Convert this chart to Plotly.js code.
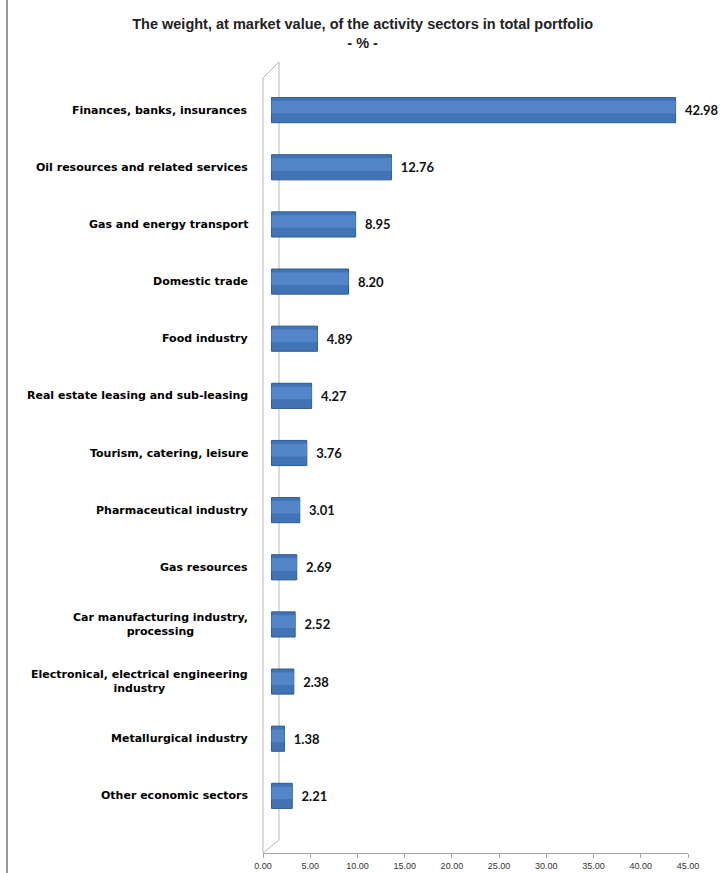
<!DOCTYPE html>
<html>
<head>
<meta charset="utf-8">
<script src="https://cdn.plot.ly/plotly-3.0.1.min.js"></script>
<style>html,body{margin:0;padding:0;background:#fff;}#chart{width:721px;height:873px;}</style>
</head>
<body>
<div id="chart"></div>
<script>
var categories = [
  "Finances, banks, insurances",
  "Oil resources and related services",
  "Gas and energy transport",
  "Domestic trade",
  "Food industry",
  "Real estate leasing and sub-leasing",
  "Tourism, catering, leisure",
  "Pharmaceutical industry",
  "Gas resources",
  "Car manufacturing industry,<br>processing",
  "Electronical, electrical engineering<br>industry",
  "Metallurgical industry",
  "Other economic sectors"
];
var weights = [42.98, 12.76, 8.95, 8.20, 4.89, 4.27, 3.76, 3.01, 2.69, 2.52, 2.38, 1.38, 2.21];
var xTickVals = [0, 5, 10, 15, 20, 25, 30, 35, 40, 45];

var W = 721, H = 873;
var mL = 263, mR = 33, mT = 65, mB = 20;
var pw = W - mL - mR, ph = H - mT - mB;
function px(x){ return (x - mL) / pw; }
function py(y){ return (H - mB - y) / ph; }

var axisHolder = {
  type: 'scatter', mode: 'none', xaxis: 'x', yaxis: 'y',
  x: [], y: [], hoverinfo: 'none', showlegend: false
};
var bars = {
  type: 'bar', orientation: 'h', xaxis: 'x2', yaxis: 'y',
  y: categories, x: weights,
  width: 0.44, offset: -0.22,
  marker: { color: '#4173b5', line: { color: '#2d5a92', width: 1 } },
  text: weights.map(function(v){ return '\u00a0\u00a0' + v.toFixed(2); }),
  textposition: 'outside', constraintext: 'none', cliponaxis: false,
  textfont: { family: 'Lato, Carlito, Liberation Sans, sans-serif', size: 13, color: '#111', weight: 'bold' },
  hoverinfo: 'none'
};
var shine = {
  type: 'bar', orientation: 'h', xaxis: 'x2', yaxis: 'y',
  y: categories, x: weights,
  width: 0.22, offset: -0.16,
  marker: { color: '#5286c9', line: { width: 0 } },
  hoverinfo: 'none'
};

var annotations = categories.map(function(c){
  return {
    xref: 'paper', yref: 'y', x: 0, y: c, xanchor: 'right', yanchor: 'middle',
    xshift: -13, showarrow: false, align: 'center', text: c,
    font: { family: 'DejaVu Sans, sans-serif', size: 11, color: '#000', weight: 'bold' }
  };
});

var layout = {
  width: W, height: H,
  margin: { l: mL, r: mR, t: mT, b: mB },
  paper_bgcolor: '#fff', plot_bgcolor: '#fff',
  showlegend: false,
  barmode: 'overlay',
  title: {
    text: 'The weight, at market value, of the activity sectors in total portfolio<br>- % -',
    font: { family: 'Liberation Sans, Arial, sans-serif', size: 14.5, color: '#222', weight: 'bold' },
    x: 0.503, xanchor: 'center', y: 0.967, yanchor: 'top'
  },
  xaxis: {
    range: [0, 45], tickvals: xTickVals, tickformat: '.2f',
    showgrid: false, zeroline: false, showline: true, linecolor: '#a6a6a6', linewidth: 1,
    ticks: 'outside', ticklen: 4, tickcolor: '#a6a6a6',
    tickfont: { family: 'Liberation Sans, Arial, sans-serif', size: 9, color: '#333' }
  },
  xaxis2: {
    overlaying: 'x', range: [-0.9, 44.3], visible: false, showgrid: false, zeroline: false
  },
  yaxis: {
    type: 'category', range: [13.0, -0.79],
    showticklabels: false, showgrid: false, zeroline: false, showline: false, ticks: ''
  },
  annotations: annotations,
  shapes: [
    { type: 'path', xref: 'paper', yref: 'paper', layer: 'below',
      path: 'M ' + px(263) + ',' + py(853) + ' L ' + px(263) + ',' + py(78) + ' L ' + px(279) + ',' + py(62) +
            ' L ' + px(279) + ',' + py(840) + ' Z',
      line: { color: '#b8b8b8', width: 1 }, fillcolor: 'rgba(0,0,0,0)' },
    { type: 'line', xref: 'paper', yref: 'paper', x0: px(7), x1: px(7), y0: py(873), y1: py(0),
      line: { color: '#999', width: 2 } }
  ]
};

Plotly.newPlot('chart', [axisHolder, bars, shine], layout, { staticPlot: true, displayModeBar: false });
</script>
</body>
</html>
